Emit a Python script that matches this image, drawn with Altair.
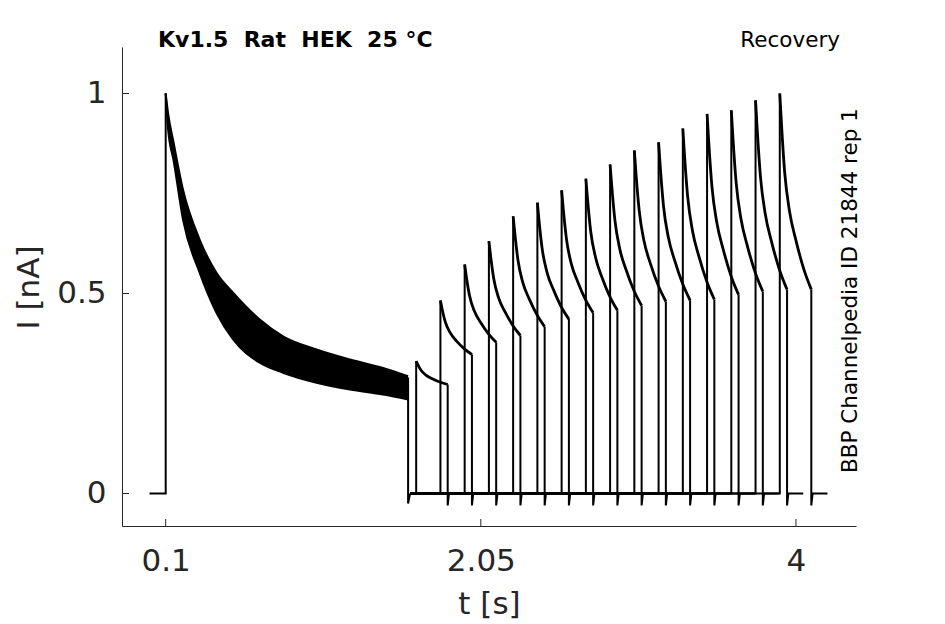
import altair as alt
import pandas as pd

# ---------------- text ----------------
title_text = "Kv1.5\u00a0 Rat\u00a0 HEK\u00a0 25 °C"
protocol_text = "Recovery"
id_text = "BBP Channelpedia ID 21844 rep 1"
x_title = "t [s]"
y_title = "I [nA]"

# ---------------- ticks ----------------
x_ticks = [0.1, 2.05, 4]
y_ticks = [0, 0.5, 1]

# ---------------- conditioning pulse ----------------
hold_t = [0.0, 0.1, 0.1]
hold_i = [0.0, 0.0, 1.0]
band_t = [0.1, 0.115, 0.15, 0.207, 0.31, 0.414, 0.517, 0.682, 0.826, 1.033, 1.24, 1.445, 1.6]
band_hi = [1.0, 0.95, 0.875, 0.76, 0.635, 0.552, 0.502, 0.435, 0.393, 0.36, 0.335, 0.314, 0.293]
band_lo = [1.0, 0.91, 0.83, 0.685, 0.552, 0.452, 0.385, 0.327, 0.302, 0.277, 0.26, 0.2475, 0.235]
drop_t = [1.6, 1.6, 1.612]
drop_i = [0.29, -0.025, 0.0]

# ---------------- recovery test pulses ----------------
rec_start = [1.65, 1.80, 1.95, 2.10, 2.25, 2.40, 2.55, 2.70,
             2.85, 3.00, 3.15, 3.30, 3.45, 3.60, 3.75, 3.90]
decay_dt = [0.0, 0.01, 0.03, 0.06, 0.1, 0.15, 0.195]
rec_decay = [
    [0.331, 0.322, 0.308, 0.296, 0.287, 0.278, 0.2725],
    [0.4825, 0.462, 0.429, 0.402, 0.381, 0.361, 0.3475],
    [0.5725, 0.543, 0.495, 0.456, 0.427, 0.398, 0.378],
    [0.631, 0.596, 0.537, 0.489, 0.454, 0.419, 0.395],
    [0.693, 0.652, 0.583, 0.527, 0.486, 0.445, 0.417],
    [0.727, 0.683, 0.611, 0.552, 0.509, 0.465, 0.436],
    [0.758, 0.712, 0.636, 0.574, 0.529, 0.483, 0.452],
    [0.787, 0.738, 0.655, 0.590, 0.540, 0.491, 0.458],
    [0.8225, 0.770, 0.682, 0.611, 0.558, 0.505, 0.47],
    [0.8575, 0.801, 0.707, 0.631, 0.574, 0.518, 0.48],
    [0.878, 0.819, 0.720, 0.641, 0.582, 0.523, 0.483],
    [0.9125, 0.848, 0.742, 0.656, 0.592, 0.528, 0.485],
    [0.949, 0.881, 0.768, 0.678, 0.610, 0.542, 0.497],
    [0.958, 0.890, 0.777, 0.686, 0.618, 0.550, 0.505],
    [0.983, 0.912, 0.794, 0.699, 0.628, 0.557, 0.51],
    [1.0, 0.927, 0.804, 0.706, 0.633, 0.559, 0.51],
]
tail_i = -0.03
tail_gap = 0.008
tail_len = 0.1

# ---------------- build tables ----------------
step_rows = []
for j, (t, i) in enumerate(zip(hold_t, hold_i)):
    step_rows.append({"id": "hold", "seq": j, "t": t, "i": i})
for j, (t, i) in enumerate(zip(drop_t, drop_i)):
    step_rows.append({"id": "drop", "seq": j, "t": t, "i": i})

decay_rows = []
for k, (t0, vals) in enumerate(zip(rec_start, rec_decay)):
    pts_pre = [(drop_t[-1], 0.0), (t0, 0.0), (t0, vals[0])]
    for j, (t, i) in enumerate(pts_pre):
        step_rows.append({"id": f"pre{k}", "seq": j, "t": t, "i": i})
    t1 = t0 + decay_dt[-1]
    pts_post = [(t1, vals[-1]), (t1, tail_i), (t1 + tail_gap, 0.0), (t1 + tail_len, 0.0)]
    for j, (t, i) in enumerate(pts_post):
        step_rows.append({"id": f"post{k}", "seq": j, "t": t, "i": i})
    for j, (dt, v) in enumerate(zip(decay_dt, vals)):
        decay_rows.append({"id": f"dec{k}", "seq": j, "t": t0 + dt, "i": v})

steps = pd.DataFrame(step_rows)
decays = pd.DataFrame(decay_rows)
band = pd.DataFrame({"t": band_t, "hi": band_hi, "lo": band_lo})
band_edges = pd.concat([
    pd.DataFrame({"id": "hi", "t": band_t, "i": band_hi}),
    pd.DataFrame({"id": "lo", "t": band_t, "i": band_lo}),
])

# ---------------- scales / axes ----------------
FONT = "DejaVu Sans"
AX = "#262626"
xs = alt.Scale(domain=[-0.1704, 4.3716], nice=False, zero=False)
ys = alt.Scale(domain=[-0.08125, 1.11625], nice=False, zero=False)

x_axis = alt.Axis(values=x_ticks, labelExpr="format(datum.value, '.3~g')",
                  ticks=False, tickSize=0, grid=False,
                  labelPadding=20, labelFontSize=31, labelFont=FONT, labelColor=AX,
                  labelOverlap=False, labelFlush=False,
                  domainColor=AX, domainWidth=1,
                  title=x_title, titleFont=FONT, titleFontSize=31, titleFontWeight="normal",
                  titleColor=AX, titleBaseline="alphabetic", titleY=87, titleX=367)
y_axis = alt.Axis(values=y_ticks, labelExpr="format(datum.value, '.3~g')",
                  ticks=False, tickSize=0, grid=False,
                  labelPadding=16, labelFontSize=31, labelFont=FONT, labelColor=AX,
                  labelOverlap=False, labelFlush=False,
                  domainColor=AX, domainWidth=1,
                  title=y_title, titleFont=FONT, titleFontSize=31, titleFontWeight="normal",
                  titleColor=AX, titleAngle=270, titleBaseline="alphabetic",
                  titleX=-84, titleY=240)

X = lambda f: alt.X(f, scale=xs, axis=x_axis)
Y = lambda f: alt.Y(f, scale=ys, axis=y_axis)

band_area = alt.Chart(band).mark_area(color="black", interpolate="monotone").encode(
    x=X("t:Q"), y=Y("hi:Q"), y2="lo:Q")
band_line = alt.Chart(band_edges).mark_line(color="black", strokeWidth=2,
                                             interpolate="monotone").encode(
    x=X("t:Q"), y=Y("i:Q"), detail="id:N")
step_lines = alt.Chart(steps).mark_line(color="black", strokeWidth=2).encode(
    x=X("t:Q"), y=Y("i:Q"), detail="id:N", order=alt.Order("seq:Q"))
decay_lines = alt.Chart(decays).mark_line(color="black", strokeWidth=2.8,
                                          interpolate="monotone").encode(
    x=X("t:Q"), y=Y("i:Q"), detail="id:N", order=alt.Order("seq:Q"))

xtick_rules = alt.Chart(pd.DataFrame({"t": x_ticks})).mark_rule(color=AX, strokeWidth=1).encode(
    x=X("t:Q"), y=alt.value(479), y2=alt.value(472))
ytick_rules = alt.Chart(pd.DataFrame({"i": y_ticks})).mark_rule(color=AX, strokeWidth=1).encode(
    y=Y("i:Q"), x=alt.value(0), x2=alt.value(7))

title_mark = alt.Chart(pd.DataFrame({"label": [title_text]})).mark_text(
    font=FONT, fontSize=22, fontWeight="bold", color="black", align="left",
    baseline="alphabetic").encode(text="label:N", x=alt.value(36), y=alt.value(-0.5))
proto_mark = alt.Chart(pd.DataFrame({"label": [protocol_text]})).mark_text(
    font=FONT, fontSize=21.5, color="black", align="right",
    baseline="alphabetic").encode(text="label:N", x=alt.value(718), y=alt.value(-0.5))
id_mark = alt.Chart(pd.DataFrame({"label": [id_text]})).mark_text(
    font=FONT, fontSize=21.5, color="black", align="left", angle=270,
    baseline="alphabetic").encode(text="label:N", x=alt.value(735), y=alt.value(426))

chart = alt.layer(
    band_area, band_line, step_lines, decay_lines,
    xtick_rules, ytick_rules, title_mark, proto_mark, id_mark,
).properties(
    width=734, height=479,
    autosize=alt.AutoSizeParams(type="none"),
    padding={"left": 114, "top": 39, "right": 80, "bottom": 94},
).configure_view(strokeWidth=0)

chart.save("out.html", embed_options={"renderer": "svg", "actions": False})
